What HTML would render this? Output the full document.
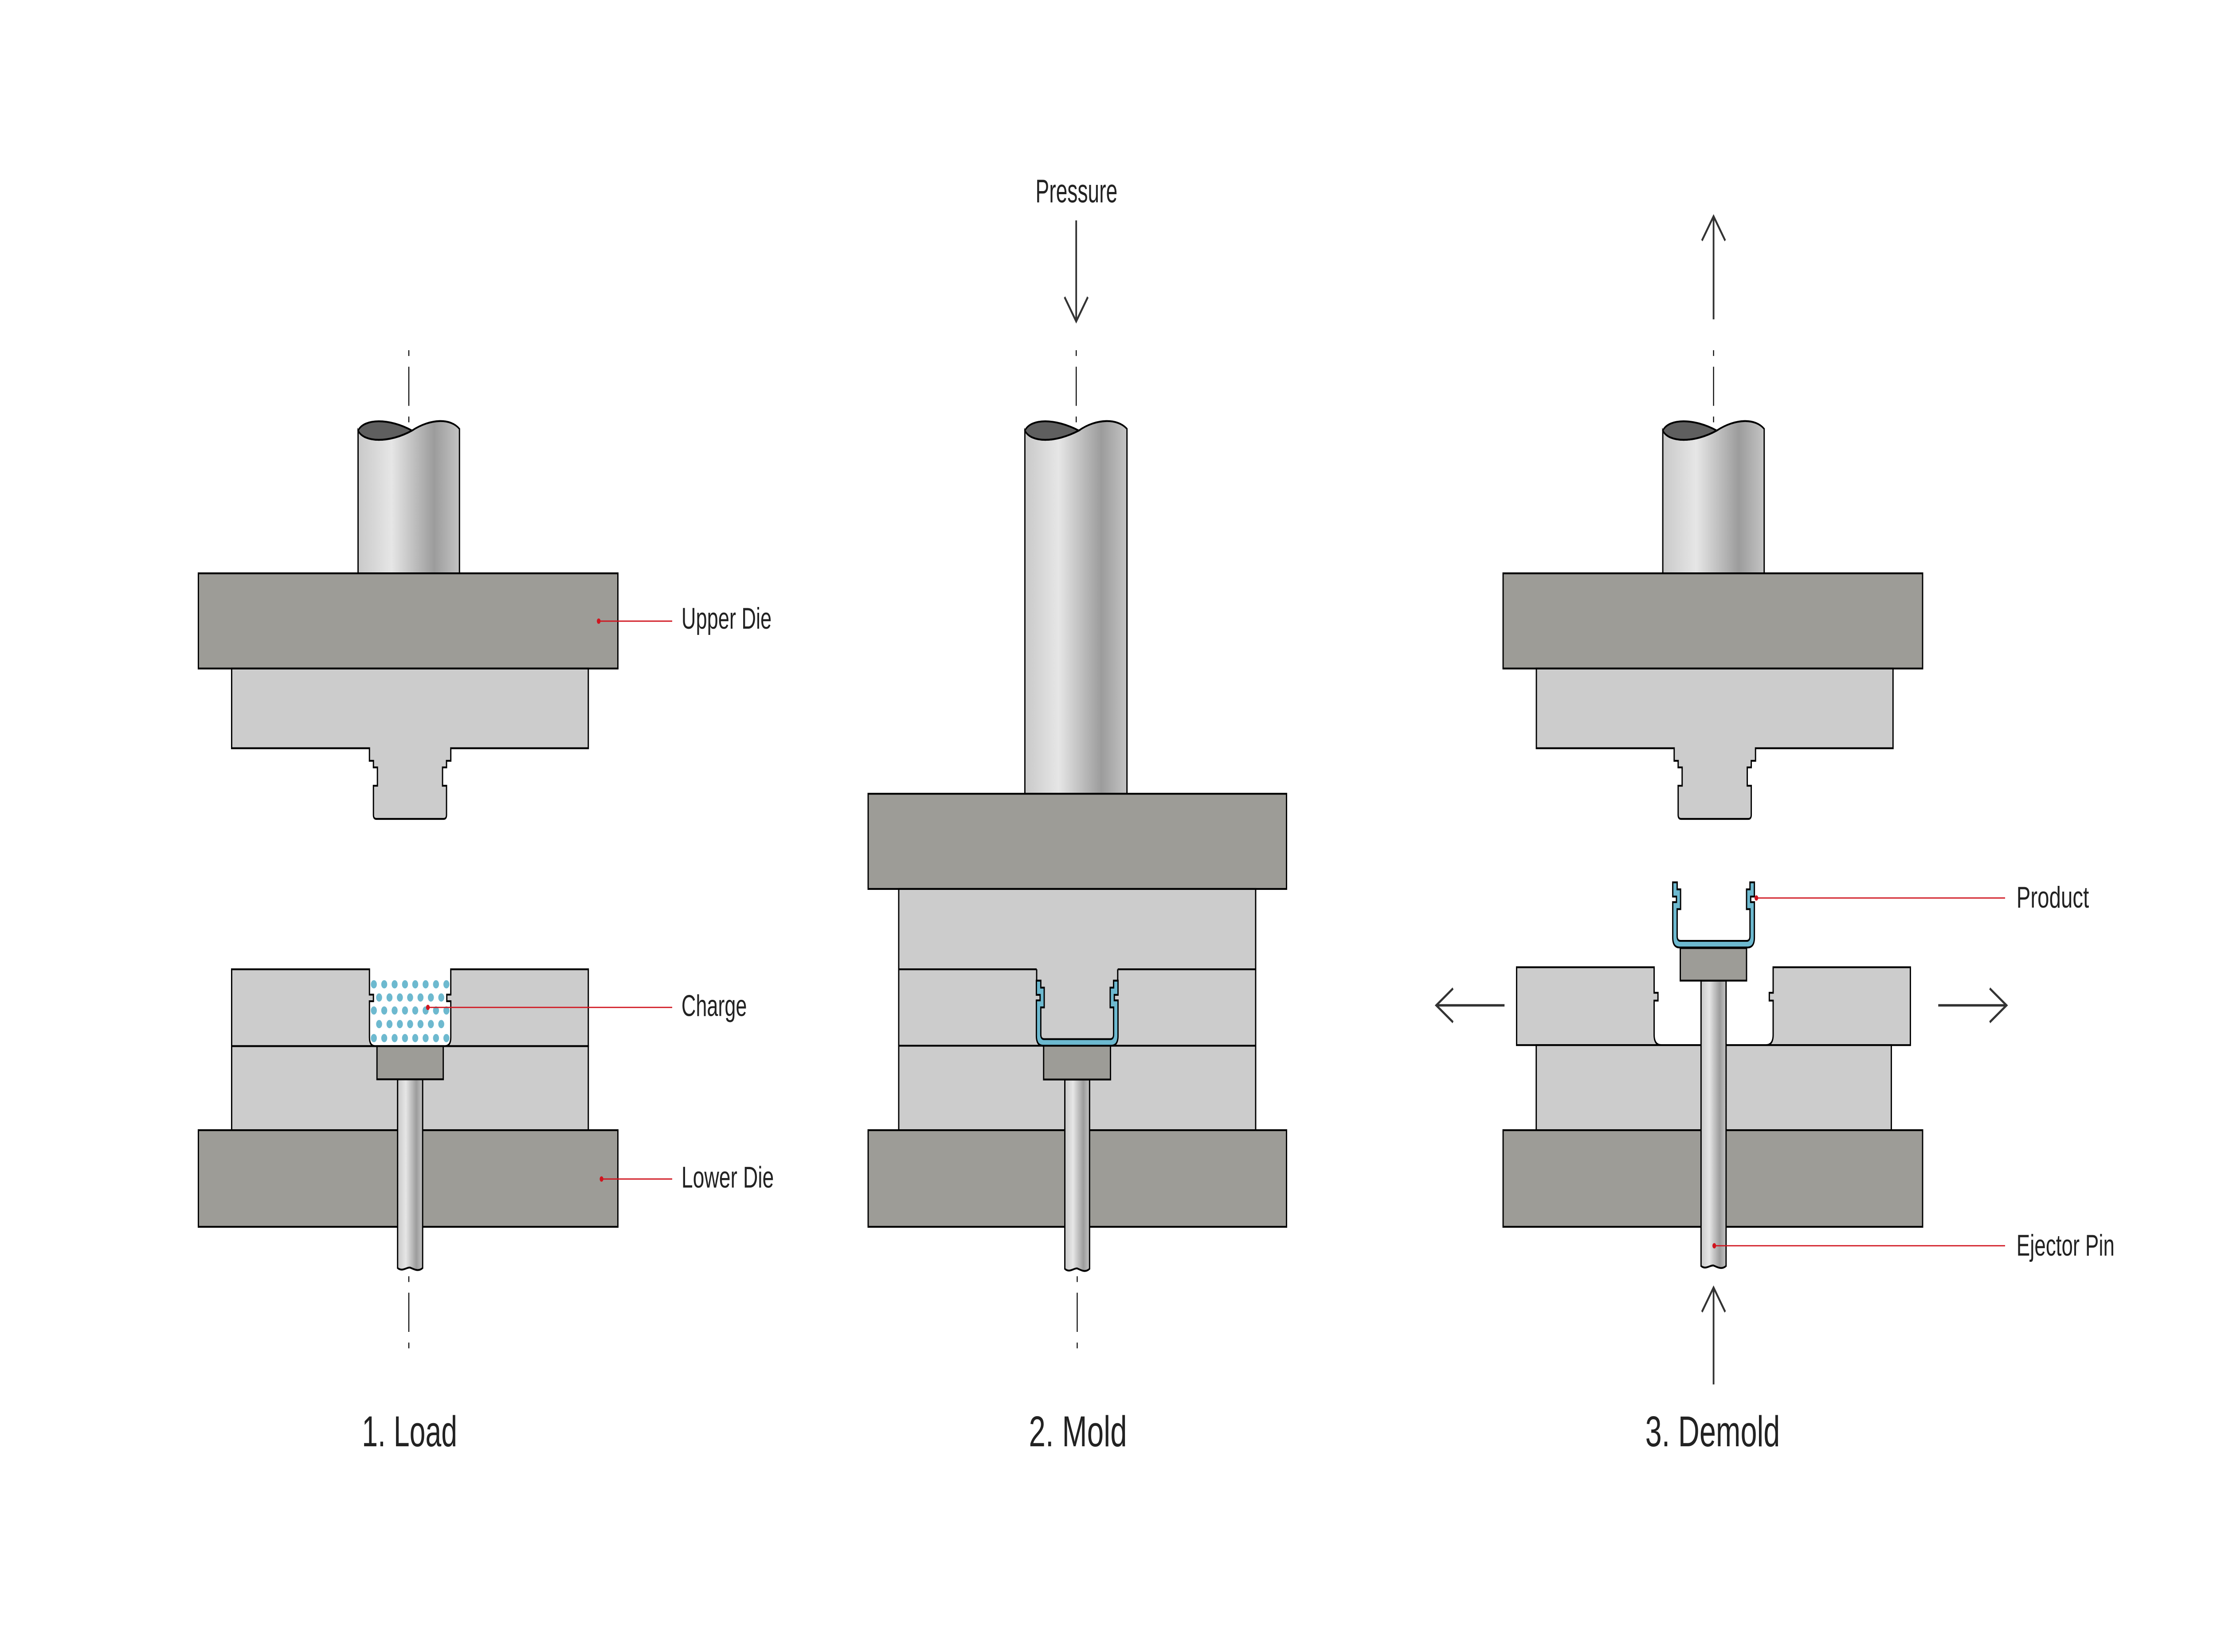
<!DOCTYPE html>
<html><head><meta charset="utf-8"><style>
html,body{margin:0;padding:0;background:#fff;width:100%;height:100%;overflow:hidden;}
svg{display:block;position:fixed;left:0;top:0;width:100vw;height:100vh;}
text{font-family:"Liberation Sans",sans-serif;fill:#222;}
</style></head><body>
<svg viewBox="0 0 7244 3726" preserveAspectRatio="none" xmlns="http://www.w3.org/2000/svg">
<defs>
<linearGradient id="g" x1="0" x2="1" y1="0" y2="0">
<stop offset="0" stop-color="#c9c9c9"/><stop offset="0.33" stop-color="#e6e6e6"/><stop offset="0.75" stop-color="#9c9c9c"/><stop offset="1" stop-color="#c4c4c4"/>
</linearGradient>
</defs>
<rect width="7244" height="3726" fill="#fff"/>
<g transform="scale(4.6465)">
<g stroke="#000" stroke-width="0.9">
<g id="p1up">
 <line x1="287.5" y1="170" x2="287.5" y2="205.5" stroke-width="0.7" stroke-dasharray="2.8 5.2 19 5.2"/>
 <path d="M251.8,209 L251.8,278.3 L323.1,278.3 L323.1,208.2 C317,203 303,203 289.7,209 C274,215 256,215 251.8,209 Z" fill="url(#g)"/>
 <path d="M251.8,209 C256,203 274,203 289.7,209 C274,215 256,215 251.8,209 Z" fill="#5f5f5f"/>
 <rect x="139.5" y="278.3" width="295" height="46.2" fill="#9d9c97"/>
 <path d="M162.9,324.5 L413.7,324.5 L413.7,363.2 L317,363.2 L317,369.3 L314,369.3 L314,372.5 L311.2,372.5 L311.2,381.4 L314,381.4 L314,395.5 Q314,397.5 312,397.5 L264.6,397.5 Q262.6,397.5 262.6,395.5 L262.6,381.4 L265.4,381.4 L265.4,372.5 L262.6,372.5 L262.6,369.3 L259.8,369.3 L259.8,363.2 L162.9,363.2 Z" fill="#cccccc"/>
</g>
<path d="M162.9,507.8 L162.9,470.5 L259.8,470.5 L259.8,482.8 L262.6,482.8 L262.6,486 L259.8,486 L259.8,503.6 Q259.8,507.8 264,507.8 L312.8,507.8 Q317,507.8 317,503.6 L317,486 L314.2,486 L314.2,482.8 L317,482.8 L317,470.5 L413.7,470.5 L413.7,507.8 Z" fill="#cccccc"/>
<g fill="#6db9cf" stroke="none">
 <g id="rowA"><ellipse cx="262.9" cy="477.8" rx="2.1" ry="2"/><ellipse cx="270.2" cy="477.8" rx="2.1" ry="2"/><ellipse cx="277.5" cy="477.8" rx="2.1" ry="2"/><ellipse cx="284.8" cy="477.8" rx="2.1" ry="2"/><ellipse cx="292.0" cy="477.8" rx="2.1" ry="2"/><ellipse cx="299.3" cy="477.8" rx="2.1" ry="2"/><ellipse cx="306.6" cy="477.8" rx="2.1" ry="2"/><ellipse cx="313.9" cy="477.8" rx="2.1" ry="2"/></g>
 <use href="#rowA" y="12.7"/><use href="#rowA" y="26.1"/>
 <g id="rowB"><ellipse cx="266.6" cy="484.2" rx="2.1" ry="2"/><ellipse cx="273.9" cy="484.2" rx="2.1" ry="2"/><ellipse cx="281.2" cy="484.2" rx="2.1" ry="2"/><ellipse cx="288.4" cy="484.2" rx="2.1" ry="2"/><ellipse cx="295.7" cy="484.2" rx="2.1" ry="2"/><ellipse cx="303.0" cy="484.2" rx="2.1" ry="2"/><ellipse cx="310.3" cy="484.2" rx="2.1" ry="2"/></g>
 <use href="#rowB" y="12.9"/>
</g>
<rect x="162.9" y="507.8" width="250.8" height="40.8" fill="#cccccc"/>
<rect x="139.5" y="548.6" width="295" height="46.9" fill="#9d9c97"/>
<path d="M279.6,523.9 L279.6,615.5 C283,617.5 286,615 288.4,615.3 C291,616 294,617.5 297.2,615.5 L297.2,523.9 Z" fill="url(#g)"/>
<rect x="265.1" y="507.8" width="46.6" height="16.1" fill="#9d9c97"/>
<line x1="287.5" y1="619.5" x2="287.5" y2="656" stroke-width="0.7" stroke-dasharray="2.8 5.2 19 5.2"/>

<line x1="756.8" y1="107" x2="756.8" y2="156" stroke="#333" stroke-width="1.2"/>
<polyline points="748.6,144.2 756.8,156 765,144.2" fill="none" stroke="#333" stroke-width="1.2"/>
<line x1="756.8" y1="170" x2="756.8" y2="205.5" stroke-width="0.7" stroke-dasharray="2.8 5.2 19 5.2"/>
<path d="M720.7,209 L720.7,385.3 L792.5,385.3 L792.5,208.2 C786,203 771,203 758.6,209 C742,215 725,215 720.7,209 Z" fill="url(#g)"/>
<path d="M720.7,209 C725,203 742,203 758.6,209 C742,215 725,215 720.7,209 Z" fill="#5f5f5f"/>
<rect x="610.5" y="385.3" width="294.2" height="46.2" fill="#9d9c97"/>
<rect x="632" y="431.5" width="251" height="117.1" fill="#cccccc"/>
<line x1="632" y1="470.5" x2="729" y2="470.5"/><line x1="786" y1="470.5" x2="883" y2="470.5"/>
<line x1="729" y1="470.5" x2="729" y2="478"/><line x1="786" y1="470.5" x2="786" y2="478"/>
<line x1="632" y1="507.6" x2="883" y2="507.6"/>
<path transform="translate(757.5,476)" d="M-28.7,0 L-28.7,6.9 L-26.1,6.9 L-26.1,9.6 L-28.7,9.6 L-28.7,26.8 Q-28.7,31.6 -24,31.6 L24,31.6 Q28.7,31.6 28.7,26.8 L28.7,9.6 L26.1,9.6 L26.1,6.9 L28.7,6.9 L28.7,0 L25.6,0 L25.6,3.4 L23.2,3.4 L23.2,13 L25.6,13 L25.6,26.1 Q25.6,28.4 23.3,28.4 L-23.3,28.4 Q-25.6,28.4 -25.6,26.1 L-25.6,13 L-23.2,13 L-23.2,3.4 L-25.6,3.4 L-25.6,0 Z" fill="#6db9cf"/>
<rect x="610.5" y="548.6" width="294.2" height="46.9" fill="#9d9c97"/>
<path d="M748.8,524 L748.8,615.9 C752,618 755,615.5 757.5,615.7 C760,616.4 763,618 766.2,615.9 L766.2,524 Z" fill="url(#g)"/>
<rect x="733.9" y="507.6" width="47" height="16.4" fill="#9d9c97"/>
<line x1="757.5" y1="619.5" x2="757.5" y2="656" stroke-width="0.7" stroke-dasharray="2.8 5.2 19 5.2"/>

<line x1="1205" y1="105" x2="1205" y2="155" stroke="#333" stroke-width="1.2"/>
<polyline points="1196.8,116.8 1205,105 1213.2,116.8" fill="none" stroke="#333" stroke-width="1.2"/>
<use href="#p1up" x="917.5"/>
<path d="M1066.5,507.3 L1066.5,469.5 L1163.2,469.5 L1163.2,481.9 L1165.9,481.9 L1165.9,485.7 L1163.2,485.7 L1163.2,502.3 Q1163.2,507.3 1168.2,507.3 Z" fill="#cccccc"/>
<path d="M1343.4,507.3 L1343.4,469.5 L1246.9,469.5 L1246.9,481.9 L1244.2,481.9 L1244.2,485.7 L1246.9,485.7 L1246.9,502.3 Q1246.9,507.3 1241.9,507.3 Z" fill="#cccccc"/>
<rect x="1080.3" y="507.3" width="249.7" height="41.3" fill="#cccccc"/>
<rect x="1057" y="548.6" width="295" height="46.9" fill="#9d9c97"/>
<path d="M1196.2,476 L1196.2,614.5 C1199.5,616.5 1202.5,614 1205,614.3 C1207.5,615 1210.5,616.5 1213.8,614.5 L1213.8,476 Z" fill="url(#g)"/>
<rect x="1181.6" y="460.2" width="46.6" height="15.8" fill="#9d9c97"/>
<path transform="translate(1205,428.3)" d="M-28.7,0 L-28.7,6.9 L-26.1,6.9 L-26.1,9.6 L-28.7,9.6 L-28.7,26.8 Q-28.7,31.6 -24,31.6 L24,31.6 Q28.7,31.6 28.7,26.8 L28.7,9.6 L26.1,9.6 L26.1,6.9 L28.7,6.9 L28.7,0 L25.6,0 L25.6,3.4 L23.2,3.4 L23.2,13 L25.6,13 L25.6,26.1 Q25.6,28.4 23.3,28.4 L-23.3,28.4 Q-25.6,28.4 -25.6,26.1 L-25.6,13 L-23.2,13 L-23.2,3.4 L-25.6,3.4 L-25.6,0 Z" fill="#6db9cf"/>
<line x1="1205" y1="625" x2="1205" y2="672" stroke="#333" stroke-width="1.2"/>
<polyline points="1196.8,636.8 1205,625 1213.2,636.8" fill="none" stroke="#333" stroke-width="1.2"/>
<line x1="1058" y1="488" x2="1010" y2="488" stroke="#333" stroke-width="1.2"/>
<polyline points="1021.8,479.8 1010,488 1021.8,496.2" fill="none" stroke="#333" stroke-width="1.2"/>
<line x1="1363" y1="488" x2="1411" y2="488" stroke="#333" stroke-width="1.2"/>
<polyline points="1399.2,479.8 1411,488 1399.2,496.2" fill="none" stroke="#333" stroke-width="1.2"/>
</g>

<g stroke="#d0151f" stroke-width="0.6" fill="#d0151f">
<line x1="421" y1="301.5" x2="472.7" y2="301.5"/><circle cx="421" cy="301.5" r="1.3" stroke="none"/>
<line x1="300.9" y1="489" x2="472.7" y2="489"/><circle cx="300.9" cy="489" r="1.3" stroke="none"/>
<line x1="423" y1="572.3" x2="472.7" y2="572.3"/><circle cx="423" cy="572.3" r="1.3" stroke="none"/>
<line x1="1235.1" y1="435.9" x2="1410" y2="435.9"/><circle cx="1235.1" cy="435.9" r="1.3" stroke="none"/>
<line x1="1205.5" y1="604.7" x2="1410" y2="604.7"/><circle cx="1205.5" cy="604.7" r="1.3" stroke="none"/>
</g>

<g font-size="14.5">
<text x="479.2" y="305.2" textLength="63.4" lengthAdjust="spacingAndGlyphs">Upper Die</text>
<text x="479.2" y="493.2" textLength="46" lengthAdjust="spacingAndGlyphs">Charge</text>
<text x="479.2" y="576.5" textLength="65" lengthAdjust="spacingAndGlyphs">Lower Die</text>
<text x="1418" y="440.5" textLength="51" lengthAdjust="spacingAndGlyphs">Product</text>
<text x="1418" y="609.5" textLength="69" lengthAdjust="spacingAndGlyphs">Ejector Pin</text>
</g>
<text x="728.2" y="98.3" font-size="16" textLength="57.6" lengthAdjust="spacingAndGlyphs">Pressure</text>
<g font-size="21">
<text x="254.5" y="702" textLength="67" lengthAdjust="spacingAndGlyphs">1. Load</text>
<text x="723.5" y="702" textLength="69" lengthAdjust="spacingAndGlyphs">2. Mold</text>
<text x="1157" y="702" textLength="94.7" lengthAdjust="spacingAndGlyphs">3. Demold</text>
</g>
</g>
</svg>
</body></html>
